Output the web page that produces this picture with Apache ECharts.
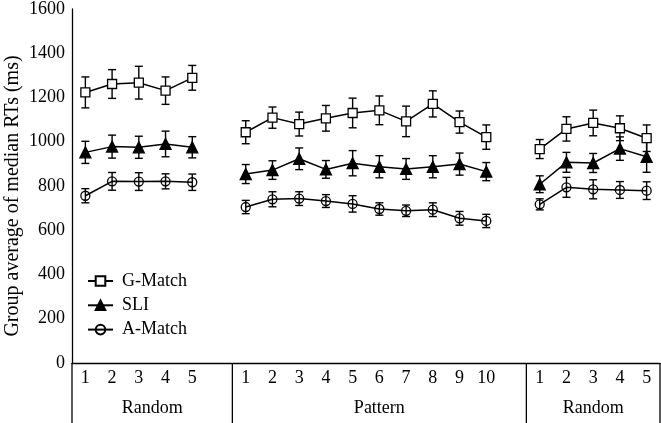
<!DOCTYPE html>
<html>
<head>
<meta charset="utf-8">
<script src="https://cdn.jsdelivr.net/npm/echarts@6/dist/echarts.min.js"></script>
<style>
html,body{margin:0;padding:0;background:#fff;}
#main{width:661px;height:423px;}
</style>
</head>
<body>
<div id="main"></div>
<script>
// ---- data ----
const groupNames = ['Random', 'Pattern', 'Random'];
const blockTicks = [
  ['1','2','3','4','5'],
  ['1','2','3','4','5','6','7','8','9','10'],
  ['1','2','3','4','5']
];
const seriesNames = ['G-Match', 'SLI', 'A-Match'];
const yTitle = 'Group average of median RTs (ms)';

const gMatch = [
  [1223, 1261, 1267, 1231, 1289],
  [1043, 1109, 1080, 1106, 1130, 1142, 1092, 1171, 1089, 1021],
  [967, 1058, 1085, 1061, 1016]
];
const gMatchErr = [
  [70, 65, 74, 62, 56],
  [52, 48, 54, 58, 67, 65, 69, 59, 50, 55],
  [43, 55, 58, 56, 60]
];
const sli = [
  [952, 978, 975, 990, 975],
  [854, 872, 923, 875, 903, 887, 877, 887, 899, 865],
  [808, 907, 904, 969, 932]
];
const sliErr = [
  [50, 52, 50, 58, 48],
  [43, 42, 49, 40, 57, 50, 47, 50, 50, 41],
  [38, 45, 43, 53, 70]
];
const aMatch = [
  [756, 821, 820, 821, 817],
  [705, 740, 743, 732, 719, 696, 688, 693, 654, 642],
  [717, 794, 785, 782, 779]
];
const aMatchErr = [
  [32, 40, 40, 34, 37],
  [30, 34, 31, 29, 37, 28, 26, 31, 31, 30],
  [25, 45, 43, 38, 40]
];

// ---- build flat category arrays with one empty slot between blocks ----
function flatten(blocks, gapVal) {
  const out = [];
  blocks.forEach((b, i) => {
    if (i > 0) out.push(gapVal);
    b.forEach(v => out.push(v));
  });
  return out;
}
const categories = flatten(blockTicks, '');
const blockStarts = [];
(function () {
  let idx = 0;
  blockTicks.forEach((b, i) => {
    if (i > 0) idx += 1;
    blockStarts.push(idx);
    idx += b.length;
  });
})();

const FONT = '"Liberation Serif", "Times New Roman", serif';

function lineSeries(name, vals, symbol, size, fill) {
  return {
    name: name,
    type: 'line',
    data: flatten(vals, '-'),
    connectNulls: false,
    symbol: symbol,
    symbolSize: size,
    showAllSymbol: true,
    z: 3,
    lineStyle: { color: '#000', width: 1.5 },
    itemStyle: { color: fill, borderColor: '#000', borderWidth: 1.3 },
    emphasis: { disabled: true },
    animation: false
  };
}

function errSeries(vals, errs) {
  const v = flatten(vals, null);
  const e = flatten(errs, null);
  const data = [];
  v.forEach((val, i) => {
    if (val !== null) data.push([i, val - e[i], val + e[i]]);
  });
  return {
    type: 'custom',
    data: data,
    z: 2,
    silent: true,
    animation: false,
    renderItem: function (params, api) {
      const x = api.value(0);
      const lo = api.coord([x, api.value(1)]);
      const hi = api.coord([x, api.value(2)]);
      const cw = 4;
      const st = { stroke: '#000', lineWidth: 1.4 };
      return {
        type: 'group',
        children: [
          { type: 'line', shape: { x1: lo[0], y1: lo[1], x2: hi[0], y2: hi[1] }, style: st },
          { type: 'line', shape: { x1: lo[0] - cw, y1: lo[1], x2: lo[0] + cw, y2: lo[1] }, style: st },
          { type: 'line', shape: { x1: hi[0] - cw, y1: hi[1], x2: hi[0] + cw, y2: hi[1] }, style: st }
        ]
      };
    }
  };
}

const chart = echarts.init(document.getElementById('main'));
const option = {
  backgroundColor: '#fff',
  animation: false,
  textStyle: { fontFamily: FONT, color: '#000' },
  grid: { left: 72, right: 1, top: 9, bottom: 60, containLabel: false, outerBoundsMode: 'none' },
  legend: {
    orient: 'vertical',
    left: 87,
    top: 272,
    padding: 0,
    itemWidth: 25,
    itemHeight: 12,
    itemGap: 6.3,
    itemTextGap: 10,
    textStyle: { fontFamily: FONT, fontSize: 18, color: '#000', padding: [0, 0, 0, 4] },
    data: seriesNames,
    selectedMode: false
  },
  xAxis: {
    type: 'category',
    data: categories,
    boundaryGap: true,
    axisLine: { lineStyle: { color: '#000', width: 1.3 } },
    axisTick: { show: false },
    axisLabel: { interval: 0, fontFamily: FONT, fontSize: 18, color: '#000', margin: 6 },
    splitLine: { show: false }
  },
  yAxis: {
    type: 'value',
    min: 0,
    max: 1600,
    interval: 200,
    axisLine: { show: true, lineStyle: { color: '#000', width: 1.3 } },
    axisTick: { show: false },
    axisLabel: { fontFamily: FONT, fontSize: 18, color: '#000', margin: 7, formatter: function (v) { return String(v); } },
    splitLine: { show: false }
  },
  series: [
    errSeries(gMatch, gMatchErr),
    errSeries(sli, sliErr),
    errSeries(aMatch, aMatchErr),
    lineSeries(seriesNames[0], gMatch, 'rect', 9, '#fff'),
    lineSeries(seriesNames[1], sli, 'triangle', 11, '#000'),
    lineSeries(seriesNames[2], aMatch, 'circle', 9, 'rgba(255,255,255,0)')
  ]
};
chart.setOption(option);

// ---- group dividers, group labels and y title ----
const p0 = chart.convertToPixel({ xAxisIndex: 0 }, 0);
const p1 = chart.convertToPixel({ xAxisIndex: 0 }, 1);
const band = p1 - p0;
const axisY = chart.convertToPixel({ yAxisIndex: 0 }, 0);
const axisTop = chart.convertToPixel({ yAxisIndex: 0 }, 1600);
const bottomY = 423;
const leftEdges = blockStarts.map((s, i) => i === 0 ? p0 - 0.5 * band : p0 + (s - 0.5) * band);
const rightEdges = leftEdges.slice(1).concat([p0 + (categories.length - 0.5) * band]);
const graphics = [];
leftEdges.concat([rightEdges[rightEdges.length - 1]]).forEach(x => {
  graphics.push({
    type: 'line',
    shape: { x1: x, y1: axisY, x2: x, y2: bottomY },
    style: { stroke: '#000', lineWidth: 1.3 },
    silent: true
  });
});
groupNames.forEach((g, i) => {
  graphics.push({
    type: 'text',
    x: (leftEdges[i] + rightEdges[i]) / 2,
    y: 408,
    style: { text: g, fontFamily: FONT, fontSize: 18, fill: '#000', align: 'center', verticalAlign: 'middle' },
    silent: true
  });
});
graphics.push({
  type: 'text',
  x: 13,
  y: (axisY + axisTop) / 2 + 10,
  rotation: Math.PI / 2,
  style: { text: yTitle, fontFamily: FONT, fontSize: 20, fill: '#000', align: 'center', verticalAlign: 'middle' },
  silent: true
});
chart.setOption({ graphic: graphics });
</script>
</body>
</html>
